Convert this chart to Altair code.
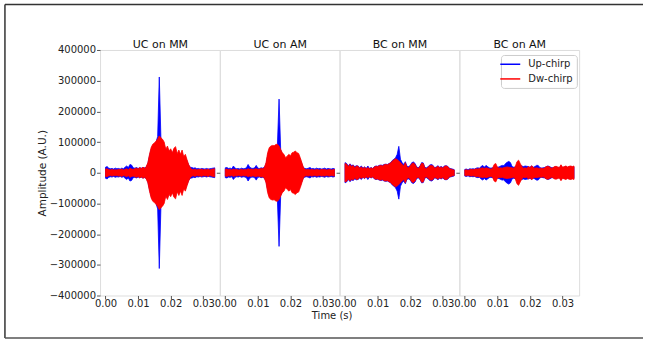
import altair as alt
import pandas as pd

FONT = "DejaVu Sans"

panels = ["UC on MM", "UC on AM", "BC on MM", "BC on AM"]
series = ["Up-chirp", "Dw-chirp"]
series_colors = ["blue", "red"]
x_ticks = [0.0, 0.01, 0.02, 0.03]
y_ticks = [-400000, -300000, -200000, -100000, 0, 100000, 200000, 300000, 400000]

# sample times (s) of the envelope readings
time_s = [round(i * 0.0005, 4) for i in range(68)]

# envelope amplitudes (A.U.)
uc_mm_up = [18000, 20000, 15000, 13000, 14000, 12000, 15000, 13000, 14000, 12000,
            15000, 13000, 18000, 22000, 17000, 27000, 25000, 16000, 15000, 17000,
            14000, 16000, 15000, 17000, 16000, 18000, 30000, 55000, 75000, 88000,
            92000, 100000, 118000, 312000, 112000, 100000, 90000, 70000, 80000, 65000,
            72000, 60000, 75000, 70000, 55000, 65000, 50000, 65000, 45000, 50000,
            38000, 25000, 18000, 17000, 15000, 16000, 13000, 14000, 12000, 14000,
            13000, 12000, 14000, 12000, 13000, 14000, 15000, 16000]
uc_mm_dw = [12000, 13000, 10000, 9000, 11000, 9000, 10000, 9000, 11000, 10000,
            12000, 9000, 11000, 13000, 10000, 15000, 12000, 11000, 13000, 15000,
            12000, 17000, 14000, 18000, 15000, 20000, 33000, 60000, 82000, 93000,
            97000, 103000, 110000, 120000, 114000, 109000, 100000, 76000, 87000, 71000,
            78000, 65000, 80000, 85000, 62000, 74000, 60000, 74000, 52000, 60000,
            43000, 27000, 16000, 11000, 10000, 12000, 9000, 11000, 10000, 12000,
            9000, 11000, 10000, 12000, 9000, 11000, 12000, 13000]
uc_am_up = [16000, 17000, 14000, 15000, 13000, 22000, 15000, 13000, 14000, 12000,
            15000, 13000, 14000, 16000, 27000, 18000, 15000, 14000, 16000, 24000,
            15000, 14000, 16000, 15000, 18000, 28000, 55000, 75000, 80000, 82000,
            82000, 85000, 92000, 240000, 75000, 60000, 50000, 42000, 48000, 54000,
            45000, 58000, 60000, 64000, 58000, 55000, 42000, 28000, 16000, 14000,
            13000, 15000, 17000, 13000, 14000, 12000, 15000, 13000, 14000, 12000,
            13000, 15000, 12000, 14000, 13000, 12000, 14000, 13000]
uc_am_dw = [11000, 12000, 10000, 11000, 9000, 12000, 10000, 11000, 9000, 10000,
            11000, 9000, 11000, 10000, 13000, 11000, 12000, 10000, 12000, 13000,
            11000, 12000, 14000, 13000, 17000, 33000, 65000, 82000, 87000, 89000,
            88000, 92000, 93000, 87000, 76000, 65000, 60000, 49000, 54000, 60000,
            55000, 65000, 67000, 71000, 65000, 63000, 49000, 33000, 16000, 11000,
            10000, 11000, 9000, 11000, 10000, 9000, 11000, 10000, 9000, 11000,
            10000, 11000, 9000, 10000, 11000, 9000, 10000, 11000]
bc_mm_up = [33000, 30000, 22000, 29000, 24000, 25000, 20000, 23000, 22000, 17000,
            22000, 15000, 19000, 14000, 22000, 14000, 17000, 14000, 20000, 22000,
            21000, 24000, 25000, 24000, 27000, 28000, 27000, 30000, 33000, 40000,
            44000, 49000, 60000, 86000, 44000, 33000, 27000, 36000, 21000, 20000,
            24000, 33000, 35000, 30000, 18000, 17000, 22000, 33000, 32000, 17000,
            16000, 20000, 25000, 27000, 24000, 16000, 19000, 23000, 18000, 20000,
            17000, 22000, 23000, 21000, 15000, 13000, 12000, 10000]
bc_mm_dw = [30000, 28000, 20000, 27000, 20000, 24000, 16000, 22000, 21000, 15000,
            19000, 14000, 18000, 13000, 17000, 13000, 16000, 13000, 19000, 21000,
            20000, 23000, 24000, 22000, 26000, 27000, 26000, 29000, 32000, 38000,
            42000, 46000, 43000, 38000, 33000, 27000, 22000, 33000, 19000, 16000,
            22000, 30000, 32000, 27000, 16000, 15000, 20000, 31000, 30000, 15000,
            14000, 18000, 23000, 24000, 22000, 15000, 17000, 21000, 16000, 19000,
            15000, 21000, 22000, 20000, 13000, 12000, 10000, 9000]
bc_am_up = [11000, 12000, 10000, 13000, 12000, 13000, 12000, 15000, 16000, 15000,
            20000, 24000, 18000, 24000, 20000, 16000, 15000, 16000, 20000, 22000,
            18000, 19000, 22000, 24000, 23000, 30000, 34000, 37000, 33000, 20000,
            18000, 19000, 25000, 30000, 24000, 22000, 20000, 22000, 21000, 20000,
            18000, 22000, 18000, 20000, 24000, 24000, 17000, 15000, 16000, 17000,
            20000, 22000, 20000, 17000, 16000, 18000, 19000, 17000, 15000, 23000,
            16000, 18000, 20000, 17000, 19000, 20000, 18000, 19000]
bc_am_dw = [9000, 10000, 8000, 10000, 11000, 10000, 11000, 13000, 12000, 14000,
            15000, 16000, 14000, 16000, 15000, 13000, 12000, 14000, 27000, 30000,
            18000, 15000, 16000, 15000, 17000, 18000, 19000, 18000, 17000, 16000,
            15000, 20000, 36000, 41000, 30000, 20000, 15000, 16000, 15000, 20000,
            16000, 23000, 17000, 15000, 16000, 15000, 14000, 15000, 13000, 16000,
            20000, 21000, 19000, 15000, 16000, 20000, 21000, 19000, 17000, 26000,
            18000, 20000, 22000, 19000, 21000, 22000, 20000, 22000]

signals = {
    ("UC on MM", "Up-chirp"): uc_mm_up,
    ("UC on MM", "Dw-chirp"): uc_mm_dw,
    ("UC on AM", "Up-chirp"): uc_am_up,
    ("UC on AM", "Dw-chirp"): uc_am_dw,
    ("BC on MM", "Up-chirp"): bc_mm_up,
    ("BC on MM", "Dw-chirp"): bc_mm_dw,
    ("BC on AM", "Up-chirp"): bc_am_up,
    ("BC on AM", "Dw-chirp"): bc_am_dw,
}

rows = []
for (p, s), vals in signals.items():
    for t, a in zip(time_s, vals):
        rows.append({"panel": p, "series": s, "t": t, "amp": a})
df = pd.DataFrame(rows)

color_scale = alt.Scale(domain=series, range=series_colors)
legend = alt.Legend(
    title=None, orient="none", legendX=401.7, legendY=5,
    symbolType="M-2,0H2", symbolSize=100, symbolStrokeWidth=1.5,
    labelFontSize=10, labelFont=FONT, labelColor="#222", labelOffset=12,
    rowPadding=3.7, padding=3.3, strokeColor="#cccccc", fillColor="white",
    cornerRadius=3,
)

one_row = pd.DataFrame({"k": [0.0]})
x_scale = alt.Scale(domain=[-0.00167, 0.03507], nice=False, zero=False)
y_scale = alt.Scale(domain=[-400000, 400000], nice=False)


def make_panel(k):
    name = panels[k]
    d = df[df["panel"] == name]
    xkw = dict(values=x_ticks, format=".2f", labelFontSize=10, tickSize=3.5,
               labelPadding=0, labelFlush=False, domain=False, grid=False,
               tickColor="#555", labelColor="#222", labelFont=FONT)
    if k == 1:
        xkw.update(title="Time (s)", titleX=112, titleFontSize=10, titleFont=FONT,
                   titleFontWeight="normal", titleColor="#222", titlePadding=2)
    else:
        xkw.update(title=None)
    if k == 0:
        yaxis = alt.Axis(values=y_ticks, format="d", title="Amplitude (A.U.)",
                         labelFontSize=10, labelFont=FONT, labelColor="#222",
                         tickSize=3.5, labelPadding=1, domain=False, grid=False,
                         tickColor="#555", titleFontSize=10.5, titleFont=FONT,
                         titleFontWeight="normal", titleColor="#222", titlePadding=2)
    else:
        yaxis = alt.Axis(values=[0], labels=False, title=None, tickSize=3.5,
                         domain=False, grid=False, tickColor="#555")
    base = alt.Chart(d).transform_calculate(neg="-datum.amp")
    layers = []
    for j, s in enumerate(series):
        if j == 0:
            x = alt.X("t:Q", scale=x_scale, axis=alt.Axis(**xkw))
        else:
            x = alt.X("t:Q", scale=x_scale, axis=None)
        layers.append(
            base.transform_filter(alt.datum.series == s)
            .mark_area(opacity=1, strokeWidth=0.8)
            .encode(x=x, y=alt.Y("amp:Q", scale=y_scale, axis=yaxis), y2="neg:Q",
                    color=alt.Color("series:N", scale=color_scale, legend=legend),
                    stroke=alt.Stroke("series:N", scale=color_scale, legend=legend))
        )
    # panel title, drawn as the title of a top axis
    layers.append(
        alt.Chart(one_row).mark_rule(opacity=0).encode(
            x=alt.X("k:Q", scale=x_scale,
                    axis=alt.Axis(orient="top", title=name, labels=False, ticks=False,
                                  domain=False, grid=False, titleFontSize=11,
                                  titleFont=FONT, titleFontWeight="normal",
                                  titleColor="#111", titlePadding=0))
        )
    )
    if k == 0:
        bc = "#333333"
        left = -95.3
        right = 544.0
        top = -45.5
        bottom = 288.5
        layers.append(alt.Chart(one_row).mark_rule(color=bc, strokeWidth=1.5).encode(
            x=alt.value(left), x2=alt.value(right), y=alt.value(top)))
        layers.append(alt.Chart(one_row).mark_rule(color=bc, strokeWidth=1.5).encode(
            x=alt.value(left), y=alt.value(top), y2=alt.value(bottom)))
        layers.append(alt.Chart(one_row).mark_rule(color="#555555", strokeWidth=1.5).encode(
            x=alt.value(left), x2=alt.value(right), y=alt.value(bottom)))
    return alt.layer(*layers).resolve_axis(x="independent").properties(width=120, height=246)


chart = alt.hconcat(*[make_panel(k) for k in range(4)], spacing=0, bounds="flush").properties(
    padding={"left": 3.25, "top": 2.75, "right": 0, "bottom": 0}
).configure_view(stroke="#999999", strokeWidth=1).configure(font=FONT)

chart.save("out.html", embed_options={"renderer": "svg", "actions": False})
